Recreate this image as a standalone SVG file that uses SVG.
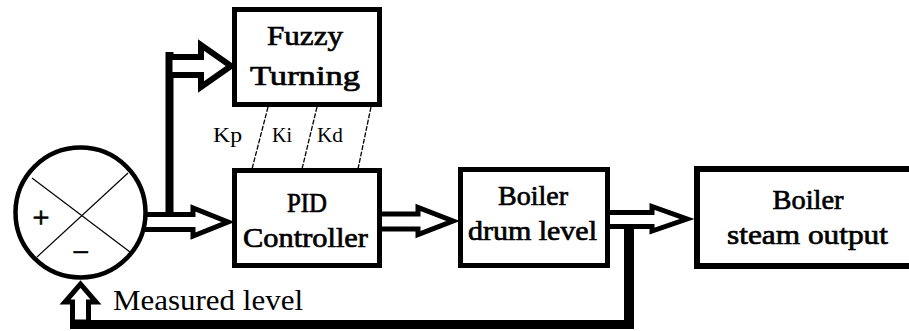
<svg xmlns="http://www.w3.org/2000/svg" width="909" height="331" viewBox="0 0 909 331">
<style>
.box{fill:#fff;stroke:#000;stroke-width:5}
.arr{fill:#fff;stroke:#000;stroke-width:5;stroke-linejoin:miter}
.lbl{font-family:"Liberation Serif","DejaVu Serif","Times New Roman",serif;font-weight:normal;font-size:28px;fill:#000;stroke:#000;stroke-width:0.7;text-anchor:middle}
.k{font-family:"Liberation Serif","DejaVu Serif","Times New Roman",serif;font-size:21px;fill:#000}
.sig{font-family:"Liberation Serif","DejaVu Serif","Times New Roman",serif;font-size:30px;fill:#000;stroke:#000;stroke-width:0.8;text-anchor:middle}
.thin{stroke:#000;stroke-width:1.2;fill:none}
.dash{stroke:#000;stroke-width:1.3;fill:none;stroke-dasharray:5 1.5}
</style>
<rect width="909" height="331" fill="#fff"/>
<g id="connectors">
  <polygon class="arr" points="140,214.5 193,214.5 193,208 228,222 193,236 193,229.5 140,229.5"/>
  <rect x="165.5" y="52" width="8" height="164" fill="#000"/>
  <polygon class="arr" style="stroke-width:6" points="169.5,57 201,57 201,45 231,66 201,87 201,75 169.5,75"/>
  <polygon class="arr" points="379.5,214 418,214 418,207.5 453,221 418,234.5 418,229 379.5,229"/>
  <polygon class="arr" points="607,212.5 652,212.5 652,206.5 687,219 652,231 652,226.5 607,226.5"/>
  <rect x="624" y="225" width="10" height="104" fill="#000"/>
  <rect x="70" y="320" width="564" height="9" fill="#000"/>
  <polygon class="arr" points="72.5,322 72.5,302 65,302 80.5,284 96,302 88.5,302 88.5,322"/>
  <line class="dash" x1="268" y1="107" x2="252" y2="169"/>
  <line class="dash" x1="317" y1="107" x2="302" y2="169"/>
  <line class="dash" x1="371" y1="107" x2="358" y2="169"/>
</g>
<g id="sum">
  <circle cx="80.5" cy="212.5" r="65" fill="#fff" stroke="#000" stroke-width="4.5"/>
  <line class="thin" x1="32" y1="178" x2="130" y2="252"/>
  <line class="thin" x1="128" y1="173" x2="37" y2="257"/>
  <text class="sig" x="41" y="227">+</text>
  <text class="sig" x="81" y="262">−</text>
</g>
<g id="fuzzy">
  <rect class="box" x="234.5" y="9.5" width="145" height="95"/>
  <text class="lbl" x="305" y="45" textLength="76" lengthAdjust="spacingAndGlyphs">Fuzzy</text>
  <text class="lbl" x="305" y="85" textLength="110" lengthAdjust="spacingAndGlyphs">Turning</text>
</g>
<g id="gains">
  <text class="k" x="213" y="142" textLength="29" lengthAdjust="spacingAndGlyphs">Kp</text>
  <text class="k" x="272" y="142" textLength="20" lengthAdjust="spacingAndGlyphs">Ki</text>
  <text class="k" x="317" y="142" textLength="26" lengthAdjust="spacingAndGlyphs">Kd</text>
</g>
<g id="pid">
  <rect class="box" x="234.5" y="170.5" width="145" height="95"/>
  <text class="lbl" x="307" y="212" textLength="40" lengthAdjust="spacingAndGlyphs">PID</text>
  <text class="lbl" x="305.5" y="247" textLength="125" lengthAdjust="spacingAndGlyphs">Controller</text>
</g>
<g id="drum">
  <rect class="box" x="460.5" y="169.5" width="147" height="96"/>
  <text class="lbl" x="533" y="205" textLength="70" lengthAdjust="spacingAndGlyphs">Boiler</text>
  <text class="lbl" x="532.5" y="240" textLength="129" lengthAdjust="spacingAndGlyphs">drum level</text>
</g>
<g id="steam">
  <rect class="box" style="stroke-width:6" x="697" y="169" width="240" height="97"/>
  <text class="lbl" x="808" y="209" textLength="71" lengthAdjust="spacingAndGlyphs">Boiler</text>
  <text class="lbl" x="807.5" y="244" textLength="161" lengthAdjust="spacingAndGlyphs">steam output</text>
</g>
<g id="measured">
  <text x="113" y="310" textLength="190" lengthAdjust="spacingAndGlyphs" style="font-family:'Liberation Serif','DejaVu Serif',serif;font-size:29px">Measured level</text>
</g>
</svg>
